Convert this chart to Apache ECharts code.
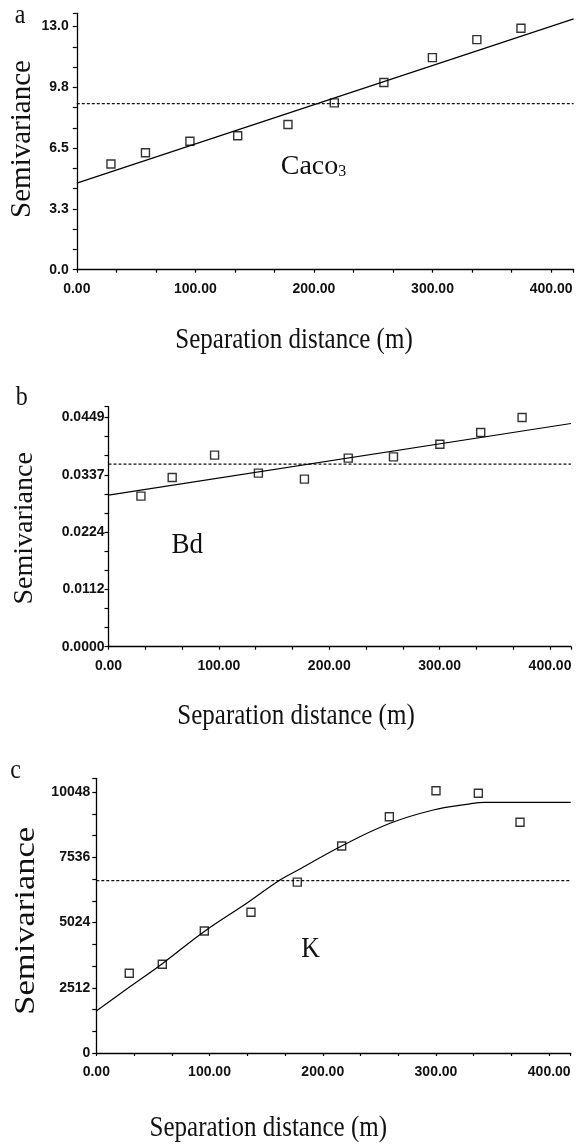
<!DOCTYPE html>
<html><head><meta charset="utf-8">
<script src="https://cdn.jsdelivr.net/npm/echarts@6/dist/echarts.min.js"></script>
<style>html,body{margin:0;padding:0;background:#fff}#c{width:576px;height:1148px}</style>
</head><body><div id="c"></div>
<script>
// ---- data ----
var xTickLabels = ['0.00', '100.00', '200.00', '300.00', '400.00'];

var lagA = [28.8, 57.9, 95.4, 135.7, 178.1, 217.2, 259.0, 299.9, 337.4, 374.6];
var semA = [5.65, 6.25, 6.87, 7.16, 7.76, 8.92, 10.01, 11.34, 12.30, 12.91];
var modelA = [[0, 4.63], [419, 13.41]];
var sillA = 8.88;
var yTickLabelsA = ['0.0', '3.3', '6.5', '9.8', '13.0'];

var lagB = [29.4, 57.7, 96.1, 135.8, 177.5, 217.2, 258.2, 300.2, 337.2, 374.7];
var semB = [0.02949, 0.03314, 0.03751, 0.03399, 0.03281, 0.03692, 0.03717, 0.03966, 0.04195, 0.04488];
var modelB = [[0, 0.02968], [419, 0.04371]];
var sillB = 0.03575;
var yTickLabelsB = ['0.0000', '0.0112', '0.0224', '0.0337', '0.0449'];

var lagC = [29.1, 58.3, 95.4, 136.6, 177.5, 216.7, 258.8, 300.0, 337.4, 374.2];
var semC = [3068, 3415, 4697, 5417, 6580, 7969, 9097, 10098, 9998, 8882];
var modelC = [[0, 1617], [29.9, 2560], [58.3, 3440], [95.4, 4680], [132.8, 5763], [162.2, 6660], [179.9, 7084], [216.7, 7969], [259.4, 8843], [297.6, 9355], [327.1, 9574], [343.3, 9651], [365, 9651], [419, 9651]];
var sillC = 6640;
var yTickLabelsC = ['0', '2512', '5024', '7536', '10048'];

// ---- layout ----
var X_MAX = 419;
var TICK_FONT = '"Liberation Sans", Arial, sans-serif';
var SERIF = '"Liberation Serif", "Times New Roman", serif';

function pair(xs, ys) { return xs.map(function (x, i) { return [x, ys[i]]; }); }

function labelFrom(list, step) {
  return function (v) {
    var k = v / step, r = Math.round(k);
    return (Math.abs(k - r) < 1e-6 && r >= 0 && r < list.length) ? list[r] : '';
  };
}

function xAxis(gi) {
  return {
    type: 'value', gridIndex: gi, min: 0, max: X_MAX, interval: 100 / 3,
    axisLine: { lineStyle: { color: '#000', width: 1.3 } },
    axisTick: { inside: false, length: 3, lineStyle: { color: '#000', width: 1.2 } },
    splitLine: { show: false },
    axisLabel: { margin: 12, fontFamily: TICK_FONT, fontWeight: 'bold', fontSize: 14, color: '#111',
      showMinLabel: true, showMaxLabel: true, formatter: labelFrom(xTickLabels, 100) }
  };
}
function yAxis(gi, max, step, labels, margin) {
  return {
    type: 'value', gridIndex: gi, min: 0, max: max, interval: step / 3,
    axisLine: { show: true, lineStyle: { color: '#000', width: 1.3 } },
    axisTick: { show: true, inside: false, length: 4, lineStyle: { color: '#000', width: 1.2 } },
    splitLine: { show: false },
    axisLabel: { margin: margin, fontFamily: TICK_FONT, fontWeight: 'bold', fontSize: 14, color: '#111',
      showMinLabel: true, showMaxLabel: true, formatter: labelFrom(labels, step) }
  };
}
function pts(gi, data) {
  return { type: 'scatter', xAxisIndex: gi, yAxisIndex: gi, data: data, symbol: 'rect', symbolSize: 8, z: 5,
    itemStyle: { color: 'rgba(255,255,255,0)', borderColor: '#000', borderWidth: 1.4 } };
}
function model(gi, data, smooth) {
  return { type: 'line', xAxisIndex: gi, yAxisIndex: gi, data: data, showSymbol: false, smooth: smooth ? 0.4 : false,
    lineStyle: { color: '#000', width: 1.2 }, z: 3 };
}
function sill(gi, v) {
  return { type: 'line', xAxisIndex: gi, yAxisIndex: gi, data: [[0, v], [X_MAX, v]], showSymbol: false,
    lineStyle: { color: '#111', width: 1.3, type: [3, 2] }, z: 2 };
}
function txt(text, x, y, size, opts) {
  opts = opts || {};
  return { type: 'text', x: x, y: y, rotation: opts.rotation || 0, scaleX: opts.sx || 1, scaleY: opts.sy || 1, z: 10,
    style: { text: text, font: size + 'px ' + SERIF, fill: '#111', textAlign: opts.align || 'center', textVerticalAlign: 'middle' } };
}

var chart = echarts.init(document.getElementById('c'));
chart.setOption({
  animation: false,
  backgroundColor: '#fff',
  grid: [
    { left: 76.8, top: 13.3, width: X_MAX * 1.1857, height: 256.4, containLabel: false, outerBoundsMode: 'none' },
    { left: 108.5, top: 406.7, width: X_MAX * 1.1038, height: 240, containLabel: false, outerBoundsMode: 'none' },
    { left: 96.3, top: 778.3, width: X_MAX * 1.1323, height: 274.7, containLabel: false, outerBoundsMode: 'none' }
  ],
  xAxis: [xAxis(0), xAxis(1), xAxis(2)],
  yAxis: [
    yAxis(0, 13.71, 3.25, yTickLabelsA, 8),
    yAxis(1, 0.047, 0.01122, yTickLabelsB, 4),
    yAxis(2, 10576, 2512, yTickLabelsC, 6)
  ],
  series: [
    sill(0, sillA), model(0, modelA, false), pts(0, pair(lagA, semA)),
    sill(1, sillB), model(1, modelB, false), pts(1, pair(lagB, semB)),
    sill(2, sillC), model(2, modelC, true), pts(2, pair(lagC, semC))
  ],
  graphic: [
    txt('a', 20, 16.1, 24, { sy: 1.1 }),
    txt('b', 21.7, 398.4, 24, { sy: 1.1 }),
    txt('c', 15.6, 771, 24, { sy: 1.1 }),
    txt('Semivariance', 22.2, 139, 29, { rotation: Math.PI / 2 }),
    txt('Semivariance', 24.8, 528.3, 28, { rotation: Math.PI / 2 }),
    txt('Semivariance', 26.6, 920.8, 30, { rotation: Math.PI / 2, sx: 1.15 }),
    txt('Separation distance (m)', 294, 340.3, 25, { sy: 1.15 }),
    txt('Separation distance (m)', 296, 716.3, 25, { sy: 1.15 }),
    txt('Separation distance (m)', 268.3, 1128.6, 25, { sy: 1.15 }),
    {
      type: 'text', x: 280.7, y: 166.2, z: 10,
      style: { text: '{m|Caco}{s|3}', fill: '#111', textAlign: 'left', textVerticalAlign: 'middle',
        rich: { m: { fontFamily: SERIF, fontSize: 28 }, s: { fontFamily: SERIF, fontSize: 16, lineHeight: 12, verticalAlign: 'bottom' } } }
    },
    txt('Bd', 171.6, 545, 27, { sy: 1.1, align: 'left' }),
    txt('K', 301.2, 949.3, 26, { sy: 1.1, align: 'left' })
  ]
});
</script>
</body></html>
